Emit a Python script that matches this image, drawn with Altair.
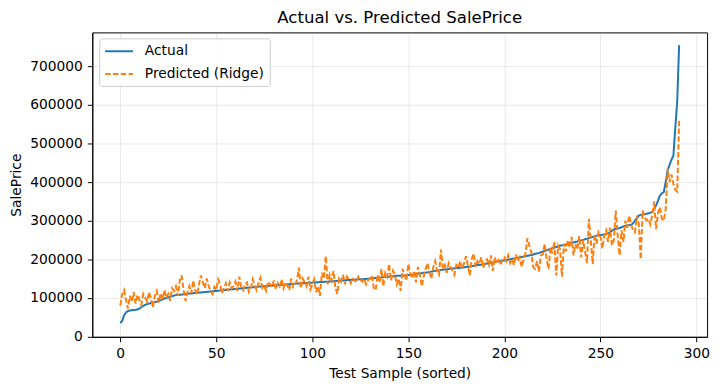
import altair as alt
import pandas as pd

actual = [
    35000, 40000, 55000, 62000, 66000, 67000, 68000, 68500, 69000, 70000,
    72000, 76000, 79000, 82000, 84000, 85000, 87000, 88000, 89000, 90000,
    92000, 94000, 96000, 98000, 100000, 101000, 103000, 104000, 106000, 107000,
    107500, 108000, 108500, 109000, 110000, 110500, 111000, 111500, 112000, 112500,
    113000, 113500, 114000, 114500, 115000, 115500, 116000, 116500, 117000, 117500,
    118000, 118500, 119000, 119500, 120000, 120500, 121000, 121500, 122000, 122500,
    123000, 123500, 124000, 124500, 125000, 125500, 126000, 126500, 127000, 127500,
    128000, 128500, 129000, 129500, 130000, 130500, 131000, 131000, 131500, 132000,
    132000, 132500, 133000, 133500, 134000, 134000, 134500, 135000, 135500, 136000,
    136000, 136500, 137000, 137000, 137500, 138000, 138000, 138500, 139000, 139000,
    139500, 140000, 140000, 140500, 141000, 141000, 141500, 142000, 142000, 142500,
    143000, 143000, 143500, 144000, 144500, 145000, 145000, 145500, 146000, 146000,
    146500, 147000, 147000, 147500, 148000, 148000, 148500, 149000, 149000, 149500,
    150000, 150500, 151000, 151500, 152000, 152500, 153000, 153500, 154000, 154500,
    155000, 155500, 156000, 156500, 157000, 157000, 157500, 158000, 158000, 158500,
    159000, 159500, 160000, 161000, 162000, 162500, 163000, 164000, 165000, 165500,
    166000, 167000, 168000, 169000, 170000, 170500, 171000, 172000, 173000, 173500,
    174000, 175000, 175500, 176000, 176500, 177000, 177500, 178000, 178500, 179000,
    180000, 180500, 181000, 182000, 183000, 184000, 185000, 185500, 186000, 187000,
    188000, 189000, 190000, 191000, 192000, 193000, 194000, 195000, 195500, 196000,
    197000, 198000, 199000, 200000, 201000, 202000, 203000, 204000, 205000, 206000,
    207000, 208000, 209000, 210000, 211000, 212000, 214000, 215000, 216000, 218000,
    220000, 221000, 223000, 225000, 227000, 229000, 230000, 232000, 233000, 235000,
    236000, 237000, 238000, 240000, 241000, 242000, 244000, 245000, 246000, 248000,
    249000, 250000, 252000, 253000, 255000, 256000, 258000, 259000, 261000, 262000,
    263000, 263500, 264000, 265000, 267000, 270000, 274000, 277000, 279000, 280000,
    281000, 283000, 285000, 287000, 288000, 288500, 289000, 293000, 300000, 307000,
    313000, 315000, 316000, 317000, 318000, 319000, 321000, 323000, 330000, 340000,
    352000, 365000, 371000, 374000, 400000, 430000, 445000, 458000, 468000, 540000,
    610000, 755000,
]

predicted = [
    80000, 110000, 120000, 95000, 72000, 105000, 90000, 115000, 85000, 108000,
    95000, 82000, 110000, 100000, 90000, 115000, 98000, 75000, 105000, 118000,
    88000, 112000, 95000, 120000, 100000, 110000, 92000, 125000, 118000, 130000,
    105000, 145000, 158000, 120000, 92000, 115000, 130000, 112000, 145000, 120000,
    108000, 135000, 158000, 140000, 125000, 150000, 132000, 118000, 110000, 128000,
    120000, 148000, 135000, 112000, 125000, 138000, 118000, 140000, 125000, 130000,
    142000, 118000, 155000, 128000, 120000, 135000, 140000, 115000, 125000, 148000,
    132000, 120000, 138000, 152000, 125000, 130000, 118000, 142000, 135000, 128000,
    145000, 122000, 138000, 130000, 148000, 125000, 140000, 132000, 120000, 150000,
    128000, 135000, 145000, 178000, 125000, 150000, 140000, 130000, 155000, 122000,
    135000, 148000, 115000, 130000, 105000, 165000, 150000, 208000, 135000, 160000,
    145000, 170000, 128000, 110000, 150000, 142000, 160000, 135000, 155000, 148000,
    138000, 152000, 145000, 140000, 155000, 148000, 142000, 150000, 135000, 145000,
    150000, 158000, 125000, 120000, 160000, 140000, 175000, 130000, 165000, 155000,
    188000, 145000, 170000, 160000, 135000, 150000, 118000, 175000, 160000, 145000,
    188000, 165000, 150000, 170000, 140000, 180000, 160000, 130000, 155000, 175000,
    190000, 165000, 150000, 180000, 195000, 170000, 160000, 225000, 175000, 185000,
    165000, 190000, 180000, 170000, 160000, 185000, 178000, 195000, 175000, 190000,
    208000, 185000, 158000, 200000, 215000, 180000, 195000, 188000, 205000, 178000,
    195000, 200000, 185000, 210000, 170000, 205000, 190000, 198000, 185000, 200000,
    205000, 195000, 210000, 190000, 200000, 185000, 212000, 195000, 205000, 180000,
    200000, 215000, 255000, 235000, 220000, 180000, 175000, 195000, 168000, 210000,
    212000, 240000, 200000, 175000, 230000, 215000, 245000, 158000, 235000, 225000,
    155000, 240000, 220000, 250000, 230000, 258000, 210000, 240000, 225000, 260000,
    205000, 250000, 220000, 190000, 305000, 250000, 188000, 265000, 240000, 270000,
    260000, 228000, 262000, 275000, 245000, 282000, 236000, 250000, 326000, 262000,
    210000, 275000, 245000, 300000, 282000, 313000, 290000, 275000, 270000, 313000,
    292000, 200000, 326000, 310000, 300000, 305000, 290000, 315000, 350000, 278000,
    320000, 335000, 305000, 300000, 330000, 435000, 400000, 420000, 395000, 380000,
    375000, 560000,
]

series_names = ["Actual", "Predicted (Ridge)"]
series_colors = ["#1f77b4", "#ff7f0e"]
x_ticks = [0, 50, 100, 150, 200, 250, 300]
y_ticks = [0, 100000, 200000, 300000, 400000, 500000, 600000, 700000]

rows = []
for i, v in enumerate(actual):
    rows.append({"idx": i, "value": v, "series": series_names[0]})
for i, v in enumerate(predicted):
    rows.append({"idx": i, "value": v, "series": series_names[1]})
df = pd.DataFrame(rows)

FONT = "DejaVu Sans"

legend = alt.Legend(
    title=None, orient="none", legendX=7, legendY=6,
    fillColor="rgba(255,255,255,0.85)", strokeColor="#cccccc", cornerRadius=3, padding=5,
    symbolType="M-1,0H3", symbolSize=196, symbolStrokeWidth=2,
    labelFont=FONT, labelFontSize=13.9, labelColor="black", labelOffset=25,
    rowPadding=8,
)

chart = alt.Chart(df).mark_line(strokeWidth=2).encode(
    x=alt.X("idx:Q", title="Test Sample (sorted)",
            scale=alt.Scale(domain=[-14.55, 305.55], nice=False, zero=False),
            axis=alt.Axis(values=x_ticks, format="d")),
    y=alt.Y("value:Q", title="SalePrice",
            scale=alt.Scale(domain=[-1000, 788000], nice=False, zero=False),
            axis=alt.Axis(values=y_ticks, format="d")),
    color=alt.Color("series:N", scale=alt.Scale(domain=series_names, range=series_colors), legend=legend),
    strokeDash=alt.StrokeDash("series:N", scale=alt.Scale(domain=series_names, range=[[1, 0], [5.5, 2.4]]), legend=legend),
).properties(
    width=620, height=307,
    title=alt.TitleParams("Actual vs. Predicted SalePrice", font=FONT, fontSize=16.7,
                          fontWeight="normal", anchor="middle", offset=6, color="black"),
    autosize=alt.AutoSizeParams(type="none"),
    padding={"left": 85, "top": 23, "right": 10, "bottom": 50},
).configure_view(
    stroke="black", strokeWidth=1
).configure_axis(
    labelFont=FONT, labelFontSize=13.9, labelColor="black",
    titleFont=FONT, titleFontSize=13.9, titleFontWeight="normal", titleColor="black",
    domainColor="black", tickColor="black", tickSize=5, labelPadding=5,
    gridColor="#b0b0b0", gridOpacity=0.35, gridWidth=0.8,
).configure_axisX(titlePadding=6).configure_axisY(titlePadding=6)

chart.save("out.html", embed_options={"renderer": "svg", "actions": False})
